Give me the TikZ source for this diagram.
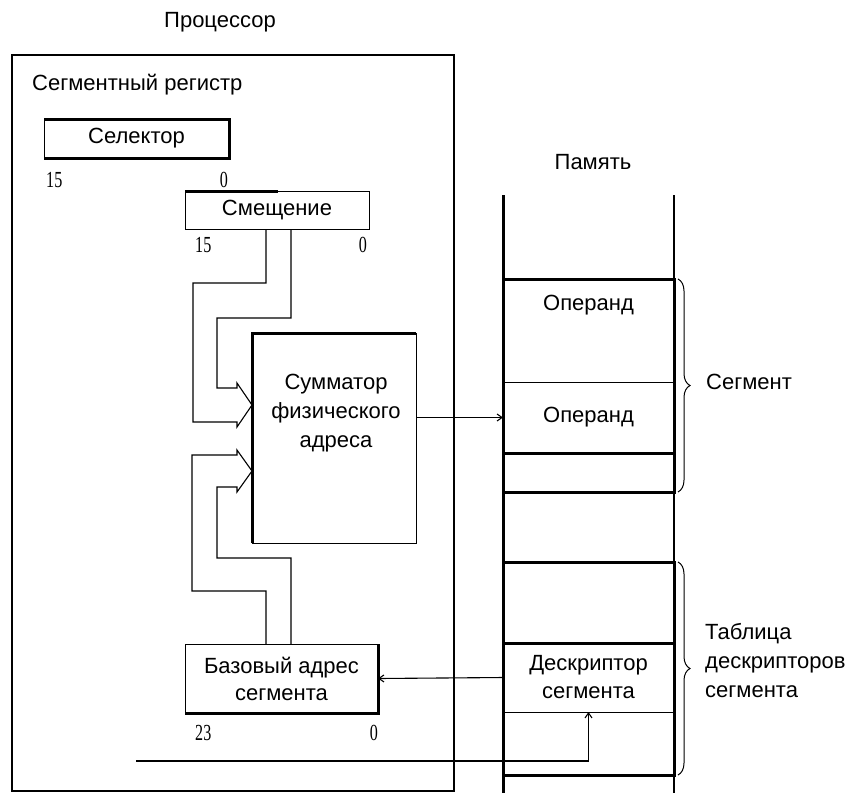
\documentclass[tikz,border=0pt]{standalone}
\usepackage{fontspec}
\setmainfont{Liberation Sans}
\newfontfamily\numfont[FakeStretch=0.7]{Liberation Serif}
\usetikzlibrary{positioning,arrows.meta,decorations.pathreplacing}

\tikzset{
  txt/.style={font=\fontsize{22}{29}\selectfont, inner sep=0pt, align=center},
  num/.style={font=\numfont\fontsize{23}{23}\selectfont, inner sep=0pt},
  box/.style={draw, line width=1pt, inner sep=0pt, outer sep=0pt},
  cell/.style={box, minimum width=171pt, font=\fontsize{22}{28}\selectfont, align=center},
  heavy/.style={line width=3pt},
  wire/.style={line width=1.1pt},
  arr/.style={wire, -{Straight Barb[length=5pt,width=7pt]}},
  segbrace/.style={line width=1pt, decorate, decoration={brace, amplitude=12pt}},
}

\begin{document}
\begin{tikzpicture}[x=1pt, y=-1pt]
  \useasboundingbox (0,0) rectangle (853,793);
  % Define nodes
  \node[box, line width=1.6pt, minimum width=442pt, minimum height=736pt] (proc) at (233,423) {};
  \node[txt] (proctitle) at (220,22) {Процессор};
  \node[txt, anchor=west] (reg) at (32,85) {Сегментный регистр};
  \node[box, txt, minimum width=185pt, minimum height=39pt] (sel) at (136.5,138.5) {Селектор};
  \node[box, txt, minimum width=184pt, minimum height=38pt] (off) at (277,210) {Смещение};
  \node[box, minimum width=164pt, minimum height=210pt] (adder) at (334,438) {};
  \node[txt] (addtext) at (336,413) {Сумматор\\физического\\адреса};
  \node[box, txt, minimum width=193pt, minimum height=69pt, font=\fontsize{22}{27}\selectfont] (base) at (281.5,678.5) {Базовый адрес\\сегмента};
  % Bit numbers
  \node[num, below right=14pt and 2pt of sel.south west] (sel15) {15};
  \node[num, below left=14pt and 1pt of sel.south east] (sel0) {0};
  \node[num, below right=8pt and 10pt of off.south west] (off15) {15};
  \node[num, below left=8pt and 2pt of off.south east] (off0) {0};
  \node[num, below right=12pt and 10pt of base.south west] (base23) {23};
  \node[num, below left=12pt and 0pt of base.south east] (base0) {0};
  % Memory
  \node[txt] (mem) at (593,162) {Память};
  \coordinate (memtl) at (503,195);
  \coordinate (memtr) at (674,195);
  \node[cell, minimum height=103pt] (op1) at (588.5,330.5) {};
  \node[txt, below=16pt of op1.north] (op1text) {Операнд};
  \node[cell, minimum height=71pt, below=0pt of op1] (op2) {Операнд};
  \node[cell, minimum height=39pt, below=0pt of op2] (m3) {};
  \node[cell, minimum height=81pt] (m4) at (588.5,602.5) {};
  \node[cell, minimum height=69pt, below=0pt of m4] (desc) {Дескриптор\\сегмента};
  \node[cell, minimum height=63pt, below=0pt of desc] (m6) {};
  \node[txt, anchor=west] (seg) at ([xshift=32pt]op2.north east) {Сегмент};
  \node[txt, anchor=west, align=left] (tab) at ([xshift=31pt, yshift=17pt]desc.east) {Таблица\\дескрипторов\\сегмента};
  \coordinate (tipA) at ([yshift=33pt]adder.west);
  \coordinate (tipB) at ([yshift=-33pt]adder.west);
  \coordinate (inp) at (136,761);

  % Heavy edges
  \draw[heavy] (sel.north west) -- (sel.north east) -- (sel.south east) -- (sel.south west);
  \draw[heavy] (off.north west) -- ++(93,0);
  \draw[heavy] (adder.south west) -- (adder.north west) -- (adder.north east);
  \draw[heavy] (base.north east) -- (base.south east) -- (base.south west);
  \draw[heavy] (memtl) -- (memtl |- 0,793);
  \draw[wire] (memtr) -- (memtr |- 0,793);
  \draw[heavy] (op1.north west) -- (op1.north east) -- (m3.south east) -- (m3.south west);
  \draw[heavy] (op2.south west) -- (op2.south east);
  \draw[heavy] (m4.north west) -- (m4.north east) -- (m6.south east) -- (m6.south west);
  \draw[heavy] (desc.north west) -- (desc.north east);
  \draw[segbrace] ([xshift=4pt]op1.north east) -- ([xshift=4pt]m3.south east);
  \draw[segbrace] ([xshift=4pt]m4.north east) -- ([xshift=4pt]m6.south east);

  % Connect nodes
  \draw[wire] ([xshift=-11pt]off.south) -- ++(0,54) -- ++(-73,0) -- ++(0,139) -- ++(44,0) -- ++(0,5) -- (tipA);
  \draw[wire] ([xshift=14pt]off.south) -- ++(0,89) -- ++(-74,0) -- ++(0,70) -- ++(20,0) -- ++(0,-5) -- (tipA);
  \draw[wire] ([xshift=-15.5pt]base.north) -- ++(0,-53) -- ++(-74,0) -- ++(0,-136) -- ++(45,0) -- ++(0,-5) -- (tipB);
  \draw[wire] ([xshift=9.5pt]base.north) -- ++(0,-86) -- ++(-74,0) -- ++(0,-71) -- ++(20,0) -- ++(0,5) -- (tipB);
  \draw[arr] (adder.east |- op2.west) -- (op2.west);
  \draw[arr] (desc.west) -- (base.east);
  \draw[arr] (inp) -| (desc.south);
\end{tikzpicture}
\end{document}
